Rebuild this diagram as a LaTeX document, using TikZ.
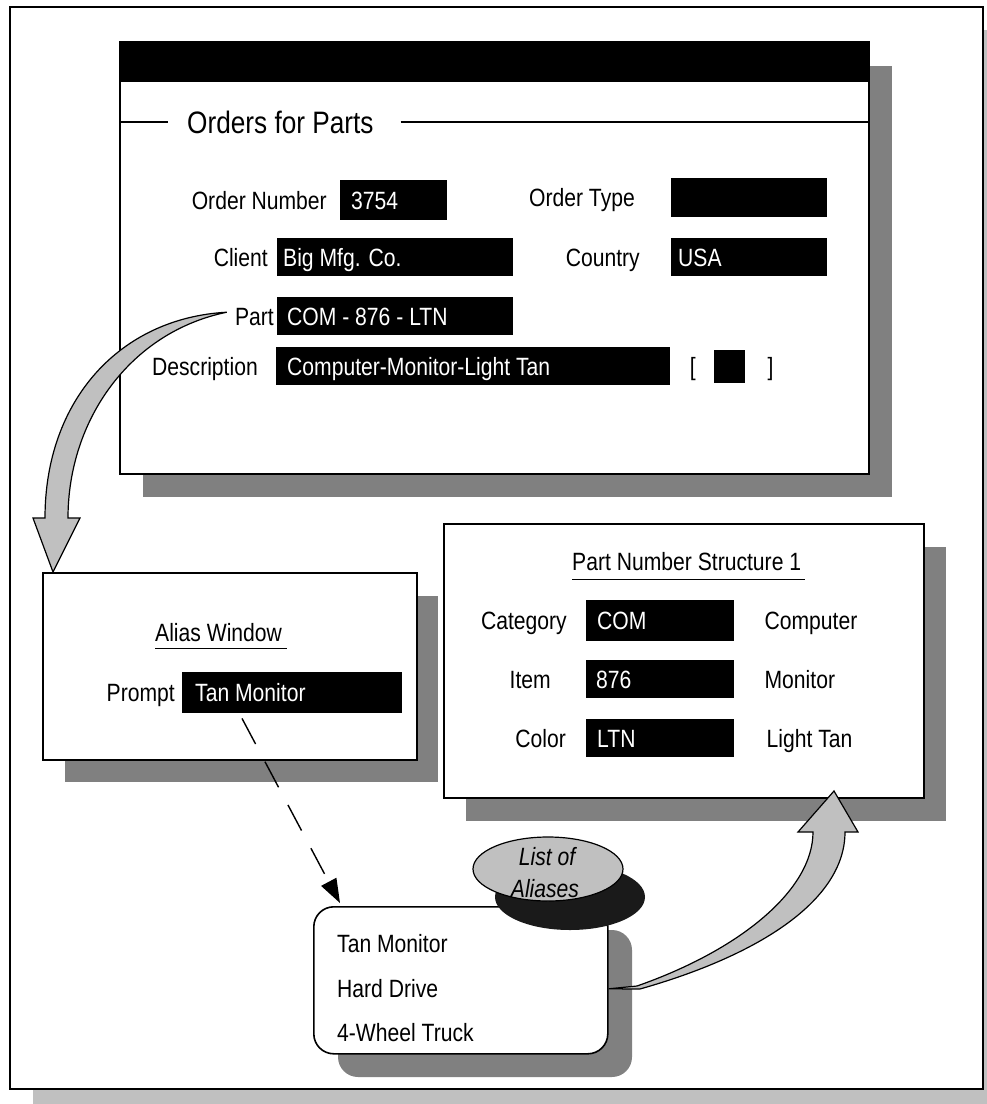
\documentclass[tikz,border=0pt]{standalone}
\usepackage{fontspec}
\setmainfont{Liberation Sans}[FakeStretch=0.845]
\usetikzlibrary{shapes.geometric,calc,arrows.meta}
\definecolor{shadowgray}{HTML}{808080}
\definecolor{lightgray2}{HTML}{C0C0C0}
\definecolor{darkshadow}{HTML}{1A1A1A}
\begin{document}
\begin{tikzpicture}[x=1pt,y=-1pt,
  win/.style={draw=black,line width=1.6pt,fill=white,inner sep=0pt,anchor=north west},
  shade/.style={fill=shadowgray,draw=none},
  fieldbox/.style={fill=black,draw=none,inner sep=0pt,anchor=north west},
  txt/.style={font=\fontsize{25}{27}\selectfont,inner sep=0pt,text height=18pt,text depth=0pt},
  wtxt/.style={txt,text=white},
  itxt/.style={txt,font=\itshape\fontsize{25}{27}\selectfont},
  bigarrow/.style={fill=lightgray2,draw=black,line width=1.2pt,line join=miter},
  uline/.style={line width=1.4pt}
]
\useasboundingbox (0,0) rectangle (987,1104);
% outer frame with light shadow
\fill[lightgray2] (982,30) rectangle (987,1104);
\fill[lightgray2] (33,1088) rectangle (987,1104);
\node[draw=black,line width=2pt,fill=white,inner sep=0pt,anchor=north west,minimum width=973pt,minimum height=1082pt] (outer) at (9,6) {};

% ---- Orders for Parts window ----
\fill[shade] (143,66) rectangle (892,497);
\node[win,minimum width=749pt,minimum height=432pt] (orderwin) at (119,41) {};
\fill[black] (119,41) rectangle (868,82);
\node[txt,font=\fontsize{31}{33}\selectfont,text height=22pt,anchor=west] (ordertitle) at (187,122) {Orders for Parts};
\draw[line width=1.6pt] (orderwin.west |- ordertitle) -- ($(ordertitle.west)+(-19,0)$);
\draw[line width=1.6pt] ($(ordertitle.east)+(27,0)$) -- (orderwin.east |- ordertitle);

\node[fieldbox,minimum width=107pt,minimum height=40pt] (onum) at (340,180) {};
\node[wtxt,anchor=west] (onumval) at ($(onum.west)+(11,0)$) {3754};
\node[txt,anchor=east] (onumlbl) at ($(onum.west)+(-13,0)$) {Order Number};

\node[fieldbox,minimum width=156pt,minimum height=39pt] (otype) at (671,178) {};
\node[txt,anchor=east] (otypelbl) at ($(otype.west)+(-36,0)$) {Order Type};

\node[fieldbox,minimum width=236pt,minimum height=38pt] (client) at (277,238) {};
\node[wtxt,anchor=west] (clientval) at ($(client.west)+(6,0)$) {Big Mfg. Co.};
\node[txt,anchor=east] (clientlbl) at ($(client.west)+(-9,0)$) {Client};

\node[fieldbox,minimum width=156pt,minimum height=38pt] (country) at (671,238) {};
\node[wtxt,anchor=west] (countryval) at ($(country.west)+(7,0)$) {USA};
\node[txt,anchor=east] (countrylbl) at ($(country.west)+(-31,0)$) {Country};

\node[fieldbox,minimum width=236pt,minimum height=38pt] (part) at (277,297) {};
\node[wtxt,anchor=west] (partval) at ($(part.west)+(10,0)$) {COM - 876 - LTN};
\node[txt,anchor=east] (partlbl) at ($(part.west)+(-3,0)$) {Part};

\node[fieldbox,minimum width=394pt,minimum height=38pt] (desc) at (276,347) {};
\node[wtxt,anchor=west] (descval) at ($(desc.west)+(11,0)$) {Computer-Monitor-Light Tan};
\node[txt,anchor=east] (desclbl) at ($(desc.west)+(-18,0)$) {Description};

\node[fieldbox,minimum width=31pt,minimum height=33pt] (chk) at (714,350) {};
\node[txt,anchor=east] (lbrack) at ($(chk.west)+(-18,0)$) {[};
\node[txt,anchor=west] (rbrack) at ($(chk.east)+(22,0)$) {]};

% ---- curved arrow Part -> Alias Window ----
\coordinate (la0) at ($(partlbl.west)+(-8,-4)$);
\draw[bigarrow] (la0) .. controls (120,318) and (45,400) .. (45,518) -- (33,518) -- (53,572) -- (80,518) -- (68,518) .. controls (68,420) and (130,332) .. (la0) -- cycle;

% ---- Alias Window ----
\fill[shade] (65,596) rectangle (438,782);
\node[win,minimum width=374pt,minimum height=187pt] (aliaswin) at (42,572) {};
\node[txt,anchor=west] (aliastitle) at (155,632) {Alias Window};
\draw[uline] ($(aliastitle.south west)+(0,7)$) -- ($(aliastitle.south east)+(5,7)$);
\node[fieldbox,minimum width=220pt,minimum height=41pt] (prompt) at (182,672) {};
\node[wtxt,anchor=west] (promptval) at ($(prompt.west)+(13,0)$) {Tan Monitor};
\node[txt,anchor=east] (promptlbl) at ($(prompt.west)+(-7,0)$) {Prompt};

% ---- Part Number Structure 1 ----
\fill[shade] (466,547) rectangle (946,821);
\node[win,minimum width=480pt,minimum height=274pt] (pns) at (443,523) {};
\node[txt,anchor=west] (pnstitle) at (572,561) {Part Number Structure 1};
\draw[uline] ($(pnstitle.south west)+(0,9)$) -- ($(pnstitle.south east)+(4,9)$);

\node[fieldbox,minimum width=148pt,minimum height=41pt] (cat) at (586,600) {};
\node[wtxt,anchor=west] (catval) at ($(cat.west)+(11,0)$) {COM};
\node[txt,anchor=east] (catlbl) at ($(cat.west)+(-19,0)$) {Category};
\node[txt,anchor=west] (catdesc) at ($(cat.east)+(30,0)$) {Computer};

\node[fieldbox,minimum width=148pt,minimum height=38pt] (item) at (586,660) {};
\node[wtxt,anchor=west] (itemval) at ($(item.west)+(10,0)$) {876};
\node[txt,anchor=east] (itemlbl) at ($(item.west)+(-35,0)$) {Item};
\node[txt,anchor=west] (itemdesc) at ($(item.east)+(30,0)$) {Monitor};

\node[fieldbox,minimum width=148pt,minimum height=38pt] (color) at (586,719) {};
\node[wtxt,anchor=west] (colorval) at ($(color.west)+(11,0)$) {LTN};
\node[txt,anchor=east] (colorlbl) at ($(color.west)+(-20,0)$) {Color};
\node[txt,anchor=west] (colordesc) at ($(color.east)+(32,0)$) {Light Tan};

% ---- List of aliases ----
\fill[shade,rounded corners=20pt] (338,930) rectangle (632,1077);
\node[win,rounded corners=20pt,minimum width=294pt,minimum height=147pt] (aliaslist) at (313,906) {};
\node[txt,anchor=west] (al1) at (337,943) {Tan Monitor};
\node[txt,anchor=west] (al2) at (337,988) {Hard Drive};
\node[txt,anchor=west] (al3) at (337,1032) {4-Wheel Truck};
\node[ellipse,fill=darkshadow,inner sep=0pt,minimum width=150pt,minimum height=66pt] (ovalshadow) at (570,897) {};
\node[ellipse,draw=black,line width=1.2pt,fill=lightgray2,inner sep=0pt,minimum width=150pt,minimum height=64pt] (aliasoval) at (548,869) {};
\node[itxt] (ovaltxt1) at (547,856) {List of};
\node[itxt] (ovaltxt2) at (545,888) {Aliases};

% ---- curved arrow list -> Part Number Structure ----
\coordinate (ra0) at ($(aliaslist.east)+(0,8.5)$);
\draw[bigarrow] (ra0) -- (640,989) .. controls (760,955) and (845,900) .. (845,832) -- (858,832) -- (834,791) -- (798,832) -- (813,832) .. controls (813,890) and (740,950) .. (637,986) -- cycle;

% ---- dashed arrow prompt -> list ----
\coordinate (dstart) at ($(prompt.south west)+(60,5)$);
\coordinate (dend) at ($(aliaslist.north west)+(27,-3)$);
\draw[line width=1.4pt,dash pattern=on 29pt off 20pt,-{Triangle[length=24pt,width=17pt]}] (dstart) -- (dend);
\end{tikzpicture}
\end{document}
